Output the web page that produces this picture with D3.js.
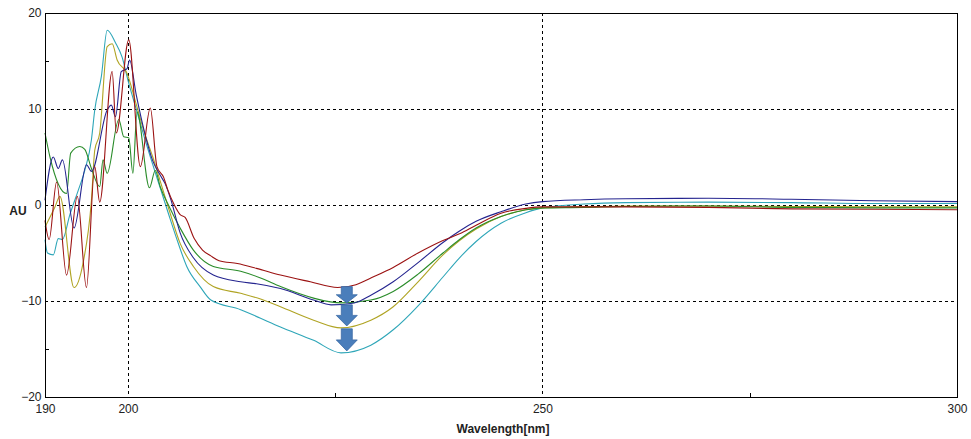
<!DOCTYPE html>
<html>
<head>
<meta charset="utf-8">
<script src="https://cdn.jsdelivr.net/npm/d3@7"></script>
<style>
  body { margin: 0; background: #fff; }
  .tick text { font-family: "Liberation Sans Narrow", "Liberation Sans", Arial, sans-serif; font-size: 12px; fill: #222; }
  .lbl { font-family: "Liberation Sans", Arial, sans-serif; font-weight: bold; font-size: 12px; fill: #222; }
</style>
</head>
<body>
<svg id="chart" width="971" height="439"></svg>
<script>
    'use strict';

    // [wavelength nm, AU]
    var redPts = [[190,-1.6],[190.5,-3.6],[191.4,2.4],[192.6,-7.3],[193.9,0.9],[195,-8.6],[196,4.0],[196.6,0.3],[198.1,13.9],[198.6,7.5],[200.1,17.2],[201.5,4.0],[202.7,10.1],[203.5,4.0],[204.3,2.9],[204.8,1.6],[205.6,0.0],[206.3,-1.0],[206.9,-1.3],[208,-3.5],[209,-4.7],[210,-5.3],[211,-5.8],[213.2,-6.1],[215.5,-6.6],[218.4,-7.3],[222,-8.0],[225.3,-8.6],[227.5,-8.3],[229.3,-7.6],[232,-6.5],[235,-5.0],[238,-3.7],[240,-3.0],[242,-2.1],[245,-0.85],[248,-0.35],[250,-0.2],[255,-0.2],[260,-0.2],[270,-0.25],[280,-0.4],[290,-0.45],[300,-0.5]];
    var bluePts = [[190,0.5],[191,5.0],[191.6,3.8],[192.1,4.7],[193.5,-2.4],[195,4.2],[195.6,3.5],[197.5,9.9],[198,10.4],[198.5,9.2],[199.2,13.9],[199.9,14.2],[200.2,15.1],[201,11.5],[202,7.6],[203,4.6],[203.9,3.1],[204.5,2.2],[205.2,0.5],[206.3,-2.9],[207.9,-5.5],[210.3,-7.3],[213.6,-8.0],[215.5,-8.2],[218.4,-8.7],[222.4,-9.9],[224.5,-10.4],[227.3,-10.2],[229.3,-9.4],[232,-8.0],[235,-6.0],[238,-3.9],[240,-2.7],[242,-1.7],[245,-0.7],[248,0.1],[250,0.35],[255,0.55],[260,0.65],[270,0.7],[280,0.6],[290,0.45],[300,0.35]];
    var greenPts = [[190,7.5],[190.6,5.0],[192.6,1.2],[193.1,5.4],[194.2,6.1],[194.8,5.8],[195.6,3.8],[196.6,1.9],[197,4.7],[197.5,3.3],[198.9,8.9],[199.5,7.1],[200.1,7.0],[200.6,3.3],[201.1,9.7],[202.6,1.8],[203.3,3.6],[203.9,1.9],[205,-0.2],[206.3,-2.4],[207.9,-4.7],[210.3,-6.4],[213.6,-6.9],[216,-7.6],[218.4,-8.5],[222.4,-9.7],[225.7,-10.2],[229.3,-9.9],[232,-9.0],[235,-7.2],[238,-5.0],[240,-3.6],[242,-2.4],[245,-1.2],[248,-0.5],[250,-0.3],[255,-0.25],[260,-0.15],[270,-0.1],[280,-0.25],[290,-0.3],[300,-0.3]];
    var olivePts = [[190,-2.3],[191.2,-0.2],[191.8,0.9],[193.5,-8.6],[194.6,-6.0],[195.6,0.5],[196,5.7],[196.6,7.5],[197.5,16.5],[198.1,16.8],[198.7,15.1],[199.9,13.7],[201,10.5],[202,7.5],[203,5.0],[204,2.2],[205,-0.6],[206.3,-4.0],[207.9,-6.4],[210.3,-8.5],[213.6,-9.2],[216,-9.8],[218.4,-10.6],[222.4,-12.0],[225.7,-12.8],[229.3,-12.0],[232,-10.6],[235,-8.0],[238,-5.2],[240,-3.7],[242,-2.5],[245,-1.2],[248,-0.5],[250,-0.3],[255,-0.2],[260,-0.1],[270,-0.1],[280,-0.15],[290,-0.2],[300,-0.2]];
    var cyanPts = [[190,-3.6],[190.3,-5.0],[191,-5.2],[191.6,-3.5],[192.1,-3.6],[193,-1.0],[194,1.5],[194.8,3.6],[195.6,6.8],[196,9.9],[196.8,13.4],[197.5,18.2],[198.5,16.9],[199.3,15.4],[200,13.0],[201,10.0],[202,7.0],[203,4.2],[204,1.5],[205,-1.2],[206,-3.8],[207.1,-6.4],[208.7,-8.5],[210,-9.9],[213.6,-10.9],[216,-11.8],[218.4,-12.7],[222.4,-14.1],[225.7,-15.4],[229.3,-14.6],[232,-13.0],[235,-10.5],[238,-7.5],[240,-5.5],[242,-3.8],[245,-1.9],[248,-0.8],[250,-0.3],[255,0.1],[260,0.25],[270,0.3],[280,0.25],[290,0.15],[300,0.15]];

    var xTicks = [190, 200, 250, 300];
    var xMinor = [225, 275];
    var yTicks = [20, 10, 0, -10, -20];
    var yMinor = [15, -15];
    var xGrid = [200, 250];
    var yGrid = [10, 0, -10];
    // arrows at one wavelength: [from AU, to AU]
    var arrowAt = 226.4;
    var arrows = [[-8.5, -10.2], [-10.4, -12.6], [-12.9, -15.2]];

    var series = [
        {pts: cyanPts, color: '#2ea6b8'},
        {pts: olivePts, color: '#b0a424'},
        {pts: greenPts, color: '#2a8c2a'},
        {pts: bluePts, color: '#24248f'},
        {pts: redPts, color: '#9b1212'}
    ];

    var margin = {left: 45, top: 13, right: 14, bottom: 42},
        width = 971 - margin.left - margin.right,
        height = 439 - margin.top - margin.bottom;

    var svg = d3.select('#chart');
    var g = svg.append('g').attr('transform', 'translate(' + margin.left + ',' + margin.top + ')');

    var x = d3.scaleLinear().domain([190, 300]).range([0, width]);
    var y = d3.scaleLinear().domain([-20, 20]).range([height, 0]);

    // grid
    g.selectAll('.hgrid').data(yGrid).enter().append('line')
        .attr('x1', 0).attr('x2', width)
        .attr('y1', function (d) { return Math.round(y(d)) + 0.5; })
        .attr('y2', function (d) { return Math.round(y(d)) + 0.5; })
        .attr('stroke', '#000').attr('stroke-dasharray', '3,3');
    g.selectAll('.vgrid').data(xGrid).enter().append('line')
        .attr('y1', 0).attr('y2', height)
        .attr('x1', function (d) { return Math.round(x(d)) + 0.5; })
        .attr('x2', function (d) { return Math.round(x(d)) + 0.5; })
        .attr('stroke', '#000').attr('stroke-dasharray', '3,3');

    // curves
    var line = d3.line()
        .x(function (d) { return x(d[0]); })
        .y(function (d) { return y(d[1]); })
        .curve(d3.curveMonotoneX);

    g.selectAll('.curve').data(series).enter().append('path')
        .attr('class', 'curve')
        .attr('d', function (d) { return line(d.pts); })
        .attr('fill', 'none')
        .attr('stroke', function (d) { return d.color; })
        .attr('stroke-width', 1.1);

    // arrows
    g.selectAll('.arrow').data(arrows).enter().append('path')
        .attr('class', 'arrow')
        .attr('d', function (d) {
            var cx = x(arrowAt), y0 = y(d[0]), y1 = y(d[1]),
                head = Math.min(11, (y1 - y0) * 0.5),
                sw = 5.5, hw = 10.5;
            return 'M' + (cx - sw) + ',' + y0 + 'L' + (cx + sw) + ',' + y0 +
                'L' + (cx + sw) + ',' + (y1 - head) + 'L' + (cx + hw) + ',' + (y1 - head) +
                'L' + cx + ',' + y1 + 'L' + (cx - hw) + ',' + (y1 - head) +
                'L' + (cx - sw) + ',' + (y1 - head) + 'Z';
        })
        .attr('fill', '#4a7ebb')
        .attr('stroke', '#3a6aa5')
        .attr('stroke-width', 0.8);

    // frame
    g.append('rect')
        .attr('x', 0.5).attr('y', 0.5)
        .attr('width', width).attr('height', height)
        .attr('fill', 'none').attr('stroke', '#000');

    // axes
    var xAxis = g.append('g').attr('transform', 'translate(0,' + (height + 0.5) + ')')
        .call(d3.axisBottom(x).tickValues(xTicks).tickSize(0).tickPadding(7).tickFormat(d3.format('d')));
    xAxis.select('.domain').remove();
    var yAxis = g.append('g').attr('transform', 'translate(0.5,0)')
        .call(d3.axisLeft(y).tickValues(yTicks).tickSize(0).tickPadding(4).tickFormat(d3.format('d')));
    yAxis.select('.domain').remove();

    g.selectAll('.xminor').data(xMinor).enter().append('line')
        .attr('x1', function (d) { return Math.round(x(d)) + 0.5; })
        .attr('x2', function (d) { return Math.round(x(d)) + 0.5; })
        .attr('y1', height).attr('y2', height - 4)
        .attr('stroke', '#000');
    g.selectAll('.yminor').data(yMinor).enter().append('line')
        .attr('y1', function (d) { return Math.round(y(d)) + 0.5; })
        .attr('y2', function (d) { return Math.round(y(d)) + 0.5; })
        .attr('x1', 0).attr('x2', 4)
        .attr('stroke', '#000');

    svg.append('text').attr('class', 'lbl')
        .attr('x', 18).attr('y', 215).attr('text-anchor', 'middle')
        .text('AU');
    svg.append('text').attr('class', 'lbl')
        .attr('x', 503).attr('y', 433).attr('text-anchor', 'middle')
        .style('font-family', '"Liberation Sans Narrow", "Liberation Sans", Arial, sans-serif')
        .text('Wavelength[nm]');
</script>
</body>
</html>
